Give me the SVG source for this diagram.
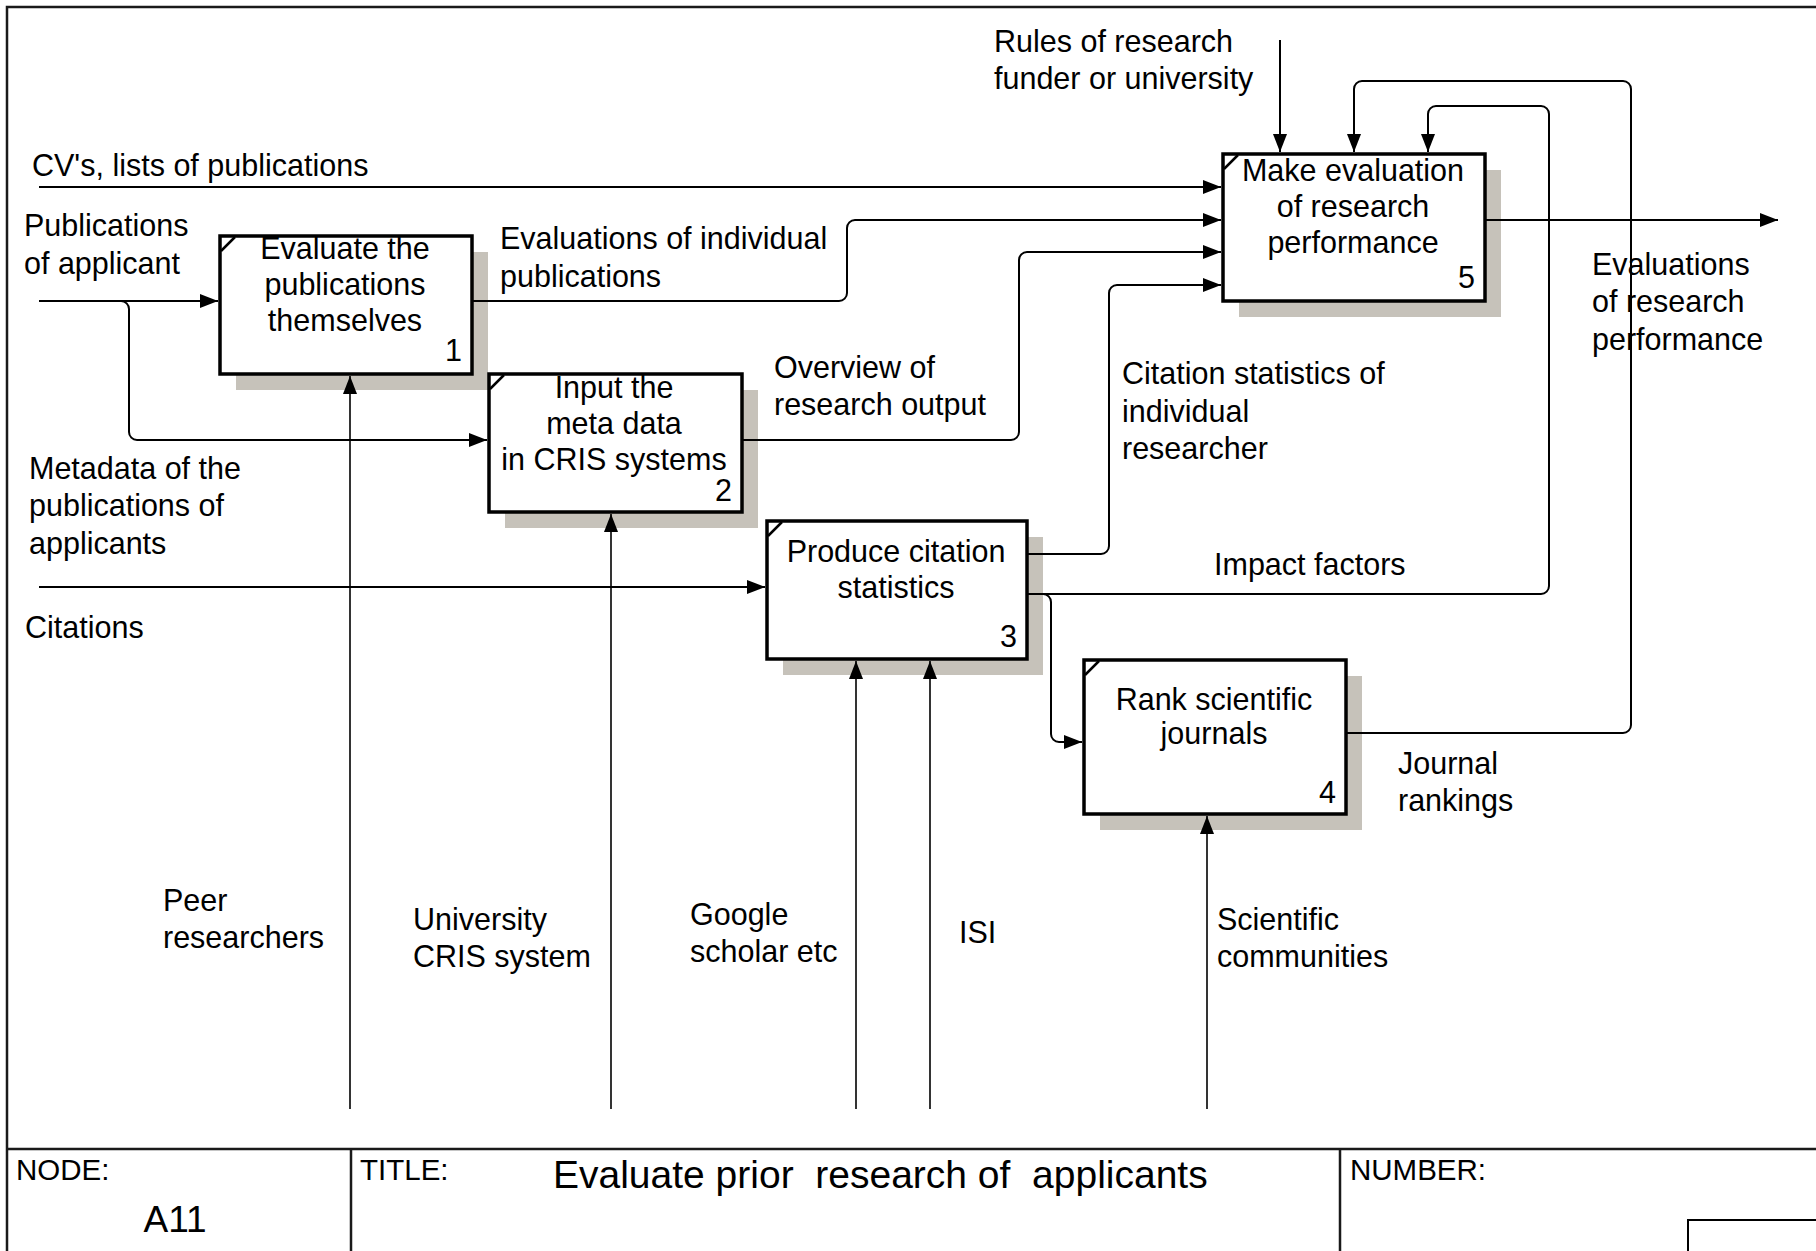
<svg xmlns="http://www.w3.org/2000/svg" width="1816" height="1251" viewBox="0 0 1816 1251">
<defs>
<style>
text{font-family:"Liberation Sans",Arial,sans-serif;font-size:30.5px;fill:#000}
.c{text-anchor:middle}
.e{text-anchor:end}
.box{fill:#fff;stroke:#000;stroke-width:3.5}
.shadow{fill:#c6c2ba}
.tick{stroke:#000;stroke-width:2.5;fill:none}
.conn path{fill:none;stroke:#000;stroke-width:2}
.conn path.m{stroke-width:1.6}
.frame{fill:none;stroke:#1a1a1a;stroke-width:2.5}
.lbl{font-size:29.5px}
</style>
<marker id="arr" markerUnits="userSpaceOnUse" markerWidth="18" markerHeight="14" refX="18" refY="7" orient="auto">
<path d="M0,0 L18,7 L0,14 z" fill="#000"/>
</marker>
</defs>
<rect width="1816" height="1251" fill="#fff"/>

<!-- frame and title block -->
<g id="frame">
<path class="frame" d="M1820,7 H7 V1255"/>
<path class="frame" d="M7,1149 H1820"/>
<path class="frame" d="M351,1149 V1255 M1340,1149 V1255"/>
<path fill="none" stroke="#000" stroke-width="2" d="M1820,1220 H1688 V1255"/>
<text class="lbl" x="16" y="1180">NODE:</text>
<text x="175" y="1232" class="c" style="font-size:37px">A11</text>
<text class="lbl" x="360" y="1180">TITLE:</text>
<text x="553" y="1188" style="font-size:39px;white-space:pre">Evaluate prior  research of  applicants</text>
<text class="lbl" x="1350" y="1180">NUMBER:</text>
</g>

<!-- shadows -->
<g id="shadows">
<rect class="shadow" x="236" y="252" width="252" height="138"/>
<rect class="shadow" x="505" y="390" width="253" height="138"/>
<rect class="shadow" x="783" y="537" width="260" height="138"/>
<rect class="shadow" x="1100" y="676" width="262" height="154"/>
<rect class="shadow" x="1239" y="170" width="262" height="147"/>
</g>

<!-- connectors -->
<g id="connectors" class="conn">
<path d="M39,187 H1221" marker-end="url(#arr)"/>
<path d="M39,301 H218" marker-end="url(#arr)"/>
<path d="M121,301 A8,8 0 0 1 129,309 V432 A8,8 0 0 0 137,440 H487" marker-end="url(#arr)"/>
<path d="M472,301 H839 A8,8 0 0 0 847,293 V228 A8,8 0 0 1 855,220 H1221" marker-end="url(#arr)"/>
<path d="M742,440 H1011 A8,8 0 0 0 1019,432 V260 A8,8 0 0 1 1027,252 H1221" marker-end="url(#arr)"/>
<path d="M1027,554 H1101 A8,8 0 0 0 1109,546 V293 A8,8 0 0 1 1117,285 H1221" marker-end="url(#arr)"/>
<path d="M1027,594 H1541 A8,8 0 0 0 1549,586 V114 A8,8 0 0 0 1541,106 H1436 A8,8 0 0 0 1428,114 V152" marker-end="url(#arr)"/>
<path d="M1043,594 A8,8 0 0 1 1051,602 V734 A8,8 0 0 0 1059,742 H1082" marker-end="url(#arr)"/>
<path d="M1346,733 H1623 A8,8 0 0 0 1631,725 V89 A8,8 0 0 0 1623,81 H1362 A8,8 0 0 0 1354,89 V152" marker-end="url(#arr)"/>
<path d="M1485,220 H1778" marker-end="url(#arr)"/>
<path d="M1280,40 V152" marker-end="url(#arr)"/>
<path d="M39,587 H765" marker-end="url(#arr)"/>
<path class="m" d="M350,1109 V376" marker-end="url(#arr)"/>
<path class="m" d="M611,1109 V514" marker-end="url(#arr)"/>
<path class="m" d="M856,1109 V661" marker-end="url(#arr)"/>
<path class="m" d="M930,1109 V661" marker-end="url(#arr)"/>
<path class="m" d="M1207,1109 V816" marker-end="url(#arr)"/>
</g>

<!-- nodes -->
<g id="node1">
<rect class="box" x="220" y="236" width="252" height="138"/>
<path class="tick" d="M221,251 L235,237"/>
<text class="c" x="345" y="259">Evaluate the</text>
<text class="c" x="345" y="295">publications</text>
<text class="c" x="345" y="331">themselves</text>
<text class="e" x="462" y="361">1</text>
</g>
<g id="node2">
<rect class="box" x="489" y="374" width="253" height="138"/>
<path class="tick" d="M490,389 L504,375"/>
<text class="c" x="614" y="398">Input the</text>
<text class="c" x="614" y="434">meta data</text>
<text class="c" x="614" y="470">in CRIS systems</text>
<text class="e" x="732" y="501">2</text>
</g>
<g id="node3">
<rect class="box" x="767" y="521" width="260" height="138"/>
<path class="tick" d="M768,536 L782,522"/>
<text class="c" x="896" y="562">Produce citation</text>
<text class="c" x="896" y="598">statistics</text>
<text class="e" x="1017" y="647">3</text>
</g>
<g id="node4">
<rect class="box" x="1084" y="660" width="262" height="154"/>
<path class="tick" d="M1085,675 L1099,661"/>
<text class="c" x="1214" y="710">Rank scientific</text>
<text class="c" x="1214" y="744">journals</text>
<text class="e" x="1336" y="803">4</text>
</g>
<g id="node5">
<rect class="box" x="1223" y="154" width="262" height="147"/>
<path class="tick" d="M1224,169 L1238,155"/>
<text class="c" x="1353" y="181">Make evaluation</text>
<text class="c" x="1353" y="217">of research</text>
<text class="c" x="1353" y="253">performance</text>
<text class="e" x="1475" y="288">5</text>
</g>

<!-- connector labels -->
<g id="labels">
<text x="994" y="52">Rules of research</text>
<text x="994" y="89">funder or university</text>
<text x="32" y="176">CV's, lists of publications</text>
<text x="24" y="236">Publications</text>
<text x="24" y="274">of applicant</text>
<text x="500" y="249">Evaluations of individual</text>
<text x="500" y="287">publications</text>
<text x="774" y="378">Overview of</text>
<text x="774" y="415">research output</text>
<text x="1122" y="384">Citation statistics of</text>
<text x="1122" y="422">individual</text>
<text x="1122" y="459">researcher</text>
<text x="1592" y="275">Evaluations</text>
<text x="1592" y="312">of research</text>
<text x="1592" y="350">performance</text>
<text x="29" y="479">Metadata of the</text>
<text x="29" y="516">publications of</text>
<text x="29" y="554">applicants</text>
<text x="25" y="638">Citations</text>
<text x="1214" y="575">Impact factors</text>
<text x="1398" y="774">Journal</text>
<text x="1398" y="811">rankings</text>
<text x="163" y="911">Peer</text>
<text x="163" y="948">researchers</text>
<text x="413" y="930">University</text>
<text x="413" y="967">CRIS system</text>
<text x="690" y="925">Google</text>
<text x="690" y="962">scholar etc</text>
<text x="959" y="943">ISI</text>
<text x="1217" y="930">Scientific</text>
<text x="1217" y="967">communities</text>
</g>
</svg>
